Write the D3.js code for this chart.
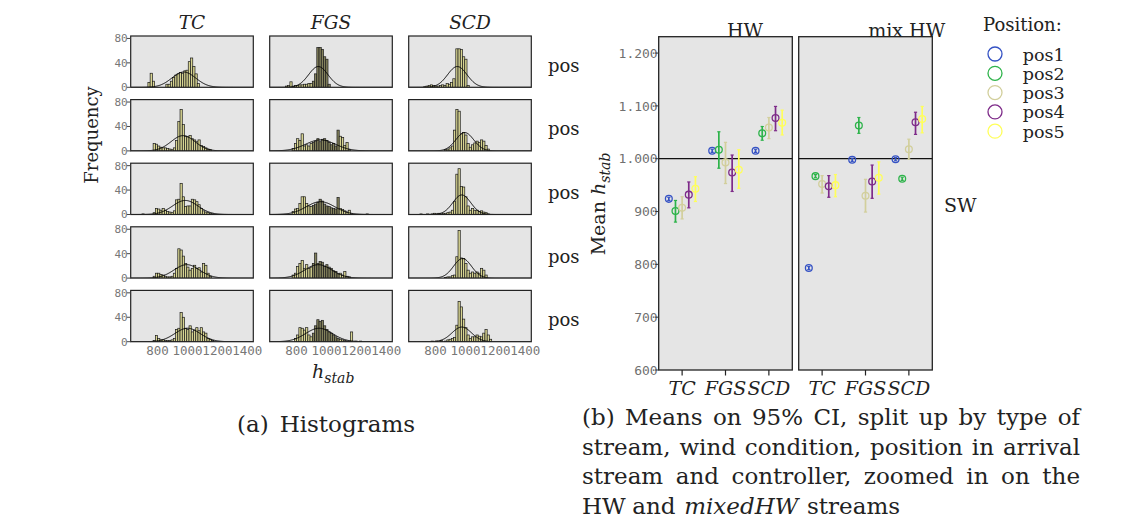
<!DOCTYPE html>
<html><head><meta charset="utf-8">
<script src="https://cdn.jsdelivr.net/npm/d3@7"></script>
<style>body{margin:0;background:#fff}</style>
</head><body><svg id="c" width="1142" height="532"></svg>
<script>
// ---------------- DATA ----------------
const columns = ["TC", "FGS", "SCD"];
const rowLabels = ["pos", "pos", "pos", "pos", "pos"];
const binWidth = 15;
const histXTicks = [800, 1000, 1200, 1400];
const histYTicks = [0, 40, 80];

// [binStart, count] per panel row
const histTC = [
  [[735,8],[750,23],[765,10],[855,5],[870,5],[885,10],[900,16],[915,20],[930,22],[945,24],[960,23],[975,27],[990,28],[1005,42],[1020,48],[1035,34],[1050,22],[1065,6]],
  [[770,12],[785,11],[800,8],[815,6],[830,5],[845,5],[860,4],[875,3],[890,2],[905,5],[920,17],[935,48],[950,68],[965,43],[980,24],[995,23],[1010,25],[1025,20],[1040,18],[1055,15],[1070,18],[1085,9],[1100,7],[1115,5],[1130,3],[1145,2]],
  [[695,1],[770,3],[785,10],[800,9],[815,7],[830,10],[845,7],[860,5],[875,4],[890,3],[905,6],[920,24],[935,25],[950,51],[965,29],[980,13],[995,14],[1010,14],[1025,25],[1040,24],[1055,21],[1070,16],[1085,10],[1100,6],[1115,4],[1130,3],[1145,2],[1160,1]],
  [[770,3],[785,8],[800,8],[815,6],[830,5],[845,3],[860,2],[875,2],[890,3],[905,8],[920,16],[935,48],[950,46],[965,36],[980,24],[995,18],[1010,13],[1025,16],[1040,21],[1055,16],[1070,17],[1085,10],[1100,24],[1115,21],[1130,8],[1145,3]],
  [[770,2],[785,10],[800,5],[815,3],[830,3],[845,2],[860,2],[875,2],[890,3],[905,5],[920,20],[935,22],[950,48],[965,40],[980,22],[995,20],[1010,26],[1025,16],[1040,19],[1055,23],[1070,18],[1085,23],[1100,16],[1115,14],[1130,5],[1145,4],[1160,2]]
];
const histFGS = [
  [[725,2],[740,3],[755,9],[770,2],[785,3],[800,3],[815,4],[830,4],[845,5],[860,5],[875,6],[890,6],[905,10],[920,22],[935,65],[950,65],[965,62],[980,50],[995,46],[1010,5]],
  [[770,4],[785,12],[800,20],[815,17],[830,28],[845,8],[860,10],[875,8],[890,12],[905,14],[920,16],[935,20],[950,15],[965,19],[980,20],[995,17],[1010,14],[1025,10],[1040,12],[1055,8],[1070,34],[1085,24],[1100,22],[1115,9],[1130,14],[1145,2]],
  [[770,5],[785,9],[800,10],[815,18],[830,29],[845,29],[860,18],[875,14],[890,13],[905,15],[920,17],[935,20],[950,25],[965,22],[980,17],[995,14],[1010,13],[1025,11],[1040,10],[1055,9],[1070,28],[1085,10],[1100,8],[1115,6],[1130,4],[1145,7],[1160,1],[1265,1]],
  [[770,5],[785,8],[800,19],[815,24],[830,29],[845,16],[860,22],[875,16],[890,18],[905,24],[920,41],[935,24],[950,27],[965,26],[980,19],[995,22],[1010,18],[1025,16],[1040,12],[1055,11],[1070,7],[1085,8],[1100,5],[1115,11],[1130,3],[1145,2]],
  [[785,5],[800,11],[815,23],[830,22],[845,19],[860,23],[875,11],[890,8],[905,14],[920,26],[935,36],[950,33],[965,35],[980,26],[995,20],[1010,16],[1025,14],[1040,11],[1055,8],[1070,5],[1085,4],[1100,3],[1115,2],[1130,1],[1145,1],[1160,16],[1190,1],[1220,1]]
];
const histSCD = [
  [[720,1],[735,2],[750,3],[765,4],[780,3],[795,2],[810,2],[825,3],[840,4],[855,3],[870,6],[885,5],[900,8],[915,14],[935,63],[950,63],[965,62],[980,50],[995,46],[1010,3]],
  [[860,2],[875,3],[890,5],[905,8],[920,34],[935,68],[950,65],[965,28],[980,30],[995,26],[1010,12],[1025,6],[1040,10],[1055,13],[1070,16],[1085,14],[1100,18],[1115,16],[1130,9],[1145,3]],
  [[695,1],[740,1],[770,1],[785,2],[800,1],[815,2],[830,1],[845,2],[860,2],[875,3],[890,4],[905,7],[920,21],[935,66],[950,75],[965,46],[980,45],[995,29],[1010,14],[1025,7],[1040,10],[1055,7],[1070,7],[1085,5],[1100,6],[1115,4],[1130,3],[1145,1]],
  [[860,1],[875,2],[890,2],[905,4],[920,5],[935,35],[950,78],[965,33],[980,32],[995,24],[1010,13],[1025,8],[1040,10],[1055,8],[1070,10],[1085,8],[1100,16],[1115,13],[1130,5]],
  [[770,1],[800,1],[830,2],[860,1],[875,3],[890,4],[905,5],[920,7],[935,27],[950,66],[965,57],[980,37],[995,23],[1010,11],[1025,5],[1040,8],[1055,8],[1070,11],[1085,9],[1100,8],[1115,14],[1130,20],[1145,11],[1160,4]]
];
// fitted normal curve per panel: [mean, sd, peak count]
const curveTC  = [[975,80,25],[970,80,25],[985,85,23],[995,85,22],[1000,85,22]];
const curveFGS = [[945,65,34],[960,100,18],[960,95,21],[945,90,22],[950,90,22]];
const curveSCD = [[945,65,34],[995,60,30],[975,60,32],[980,60,32],[975,65,24]];

// Means chart
const controllers = ["TC", "FGS", "SCD"];
const positions = ["pos1", "pos2", "pos3", "pos4", "pos5"];
const meanTicks = [600, 700, 800, 900, 1000, 1100, 1200];
// rows = positions, cols = controllers
const hwMean = [[924,1015,1015],[901,1017,1048],[907,993,1059],[932,974,1077],[943,979,1068]];
const hwLo   = [[921,1012,1012],[880,982,1035],[886,953,1038],[907,938,1053],[919,944,1045]];
const hwHi   = [[927,1018,1018],[921,1051,1061],[928,1031,1078],[956,1007,1099],[966,1017,1092]];
const mixMean = [[793,998,999],[967,1063,962],[952,930,1018],[948,957,1069],[950,964,1075]];
const mixLo   = [[790,995,996],[964,1048,959],[935,899,999],[927,925,1046],[928,933,1049]];
const mixHi   = [[796,1001,1002],[970,1078,965],[968,961,1037],[968,988,1088],[970,994,1099]];
const posColors = ["#3552c4", "#2db34a", "#d2cf9c", "#7e2b89", "#ffff5a"];

// ---------------- DRAW ----------------
const svg = d3.select("#c");
const SERIF = "DejaVu Serif", MONO = "DejaVu Sans Mono";

// ---- histograms ----
const hx0 = 130.7, hColStep = 139, hw = 122.6, hy0 = 36, hRowStep = 63.6, hh = 51.3;
const xH = d3.scaleLinear().domain([620, 1440]).range([0, hw]);
const yH = d3.scaleLinear().domain([0, 84]).range([hh, 0]);
const histData = {TC: histTC, FGS: histFGS, SCD: histSCD};
const curveData = {TC: curveTC, FGS: curveFGS, SCD: curveSCD};

svg.append("defs").append("clipPath").attr("id", "hclip")
  .append("rect").attr("width", hw).attr("height", hh);

columns.forEach((col, ci) => {
  const gx = hx0 + ci * hColStep;
  svg.append("text").attr("x", gx + hw / 2).attr("y", 29)
    .attr("text-anchor", "middle").attr("font-family", SERIF).attr("font-style", "italic")
    .attr("font-size", 18.5).attr("fill", "#222").text(col);
  histData[col].forEach((bins, ri) => {
    const g = svg.append("g").attr("transform", `translate(${gx},${hy0 + ri * hRowStep})`);
    g.append("rect").attr("width", hw).attr("height", hh).attr("fill", "#e5e5e5");
    const inner = g.append("g").attr("clip-path", "url(#hclip)");
    inner.selectAll("rect.bar").data(bins).join("rect").attr("class", "bar")
      .attr("x", d => xH(d[0])).attr("width", d => xH(d[0] + binWidth) - xH(d[0]))
      .attr("y", d => yH(d[1])).attr("height", d => yH(0) - yH(d[1]))
      .attr("fill", d => (col === "FGS" && d[0] >= 900 && d[0] < 1080) ? "#84825c" : "#d8d592")
      .attr("stroke", "#1a1a1a").attr("stroke-width", 0.7);
    const [m, s, p] = curveData[col][ri];
    const pts = d3.range(620, 1441, 3).map(v => [v, p * Math.exp(-0.5 * ((v - m) / s) ** 2)]);
    inner.append("path").attr("d", d3.line().x(d => xH(d[0])).y(d => yH(d[1]))(pts))
      .attr("fill", "none").attr("stroke", "#000").attr("stroke-width", 1);
    g.append("rect").attr("width", hw).attr("height", hh).attr("fill", "none")
      .attr("stroke", "#222").attr("stroke-width", 1.2);
    if (ci === 0) {
      histYTicks.forEach(t => {
        g.append("line").attr("x1", -4).attr("x2", 0).attr("y1", yH(t)).attr("y2", yH(t))
          .attr("stroke", "#444").attr("stroke-width", 1);
        g.append("text").attr("x", -3).attr("y", yH(t)).attr("dy", "0.36em")
          .attr("text-anchor", "end").attr("font-family", MONO).attr("font-size", 11)
          .attr("fill", "#777").text(t);
      });
    }
    if (ci === columns.length - 1) {
      svg.append("text").attr("x", 548).attr("y", hy0 + ri * hRowStep + 35.7)
        .attr("font-family", SERIF).attr("font-size", 18).attr("fill", "#222").text(rowLabels[ri]);
    }
    if (ri === histData[col].length - 1) {
      histXTicks.forEach(t => {
        svg.append("text").attr("x", gx + xH(t)).attr("y", 355)
          .attr("text-anchor", "middle").attr("font-family", MONO).attr("font-size", 12.5)
          .attr("fill", "#777").text(t);
      });
    }
  });
});
// Frequency label
svg.append("text").attr("transform", "translate(98,135) rotate(-90)")
  .attr("text-anchor", "middle").attr("font-family", SERIF).attr("font-size", 18)
  .attr("fill", "#222").text("Frequency");
// h_stab label
const hl = svg.append("text").attr("x", 312).attr("y", 378)
  .attr("font-family", SERIF).attr("font-style", "italic").attr("font-size", 19).attr("fill", "#222");
hl.append("tspan").text("h");
hl.append("tspan").attr("dy", 5).attr("font-size", 14).text("stab");

// ---- means chart ----
const yM = d3.scaleLinear().domain([600, 1231]).range([370, 36.7]);
const pw = 133.6;
const xC = d3.scalePoint().domain(controllers).range([0, pw]).padding(0.54);
const xP = d3.scalePoint().domain(positions).range([-13.3, 13.3]);
const fmt = d3.formatLocale({decimal: ",", thousands: ".", grouping: [3], currency: ["", ""]}).format(",d");
const panels = [
  {name: "HW", x: 658.7, titleX: 745, mean: hwMean, lo: hwLo, hi: hwHi},
  {name: "mix HW", x: 798.7, titleX: 906.7, mean: mixMean, lo: mixLo, hi: mixHi}
];
panels.forEach((pn, pi) => {
  const g = svg.append("g").attr("transform", `translate(${pn.x},0)`);
  g.append("rect").attr("x", 0).attr("y", yM.range()[1]).attr("width", pw)
    .attr("height", yM.range()[0] - yM.range()[1]).attr("fill", "#e5e5e5");
  g.append("line").attr("x1", 0).attr("x2", pw).attr("y1", yM(1000)).attr("y2", yM(1000))
    .attr("stroke", "#111").attr("stroke-width", 1.2);
  positions.forEach((pos, k) => {
    controllers.forEach((c, j) => {
      const cx = xC(c) + xP(pos);
      const col = posColors[k];
      g.append("line").attr("x1", cx).attr("x2", cx)
        .attr("y1", yM(pn.lo[k][j])).attr("y2", yM(pn.hi[k][j]))
        .attr("stroke", col).attr("stroke-width", 1.7);
      [pn.lo[k][j], pn.hi[k][j]].forEach(v => {
        g.append("line").attr("x1", cx - 1.6).attr("x2", cx + 1.6)
          .attr("y1", yM(v)).attr("y2", yM(v)).attr("stroke", col).attr("stroke-width", 1.2);
      });
      g.append("circle").attr("cx", cx).attr("cy", yM(pn.mean[k][j])).attr("r", 3.4)
        .attr("fill", "none").attr("stroke", col).attr("stroke-width", 1.3);
    });
  });
  g.append("rect").attr("x", 0).attr("y", yM.range()[1]).attr("width", pw)
    .attr("height", yM.range()[0] - yM.range()[1]).attr("fill", "none")
    .attr("stroke", "#222").attr("stroke-width", 1.3);
  controllers.forEach(c => {
    g.append("line").attr("x1", xC(c)).attr("x2", xC(c)).attr("y1", 370).attr("y2", 375.5)
      .attr("stroke", "#222").attr("stroke-width", 1.2);
    g.append("text").attr("x", xC(c)).attr("y", 395).attr("text-anchor", "middle")
      .attr("font-family", SERIF).attr("font-style", "italic").attr("font-size", 19)
      .attr("fill", "#222").text(c);
  });
  svg.append("text").attr("x", pn.titleX).attr("y", 37).attr("text-anchor", "middle")
    .attr("font-family", SERIF).attr("font-size", 19).attr("fill", "#222").text(pn.name);
  if (pi === 0) {
    meanTicks.forEach(t => {
      g.append("text").attr("x", -1).attr("y", yM(t)).attr("dy", "0.36em")
        .attr("text-anchor", "end").attr("font-family", MONO).attr("font-size", 13)
        .attr("fill", "#707070").text(fmt(t));
      g.append("line").attr("x1", -3.5).attr("x2", 0).attr("y1", yM(t)).attr("y2", yM(t))
        .attr("stroke", "#333").attr("stroke-width", 1);
    });
  }
});
// Mean h_stab label
const ml = svg.append("text").attr("transform", "translate(605,204) rotate(-90)")
  .attr("text-anchor", "middle").attr("font-family", SERIF).attr("font-size", 19).attr("fill", "#222");
ml.append("tspan").text("Mean ");
ml.append("tspan").attr("font-style", "italic").text("h");
ml.append("tspan").attr("font-style", "italic").attr("font-size", 14).attr("dy", 5).text("stab");

svg.append("text").attr("x", 944).attr("y", 211.5).attr("font-family", SERIF)
  .attr("font-size", 19).attr("fill", "#222").text("SW");

// legend
svg.append("text").attr("x", 983).attr("y", 30.5).attr("font-family", SERIF)
  .attr("font-size", 18).attr("fill", "#222").text("Position:");
positions.forEach((p, k) => {
  const cy = 54 + k * 19.3;
  svg.append("circle").attr("cx", 995).attr("cy", cy).attr("r", 7)
    .attr("fill", "none").attr("stroke", posColors[k]).attr("stroke-width", 1.3);
  svg.append("text").attr("x", 1022.7).attr("y", cy + 6.5).attr("font-family", SERIF)
    .attr("font-size", 16.5).attr("textLength", 42).attr("lengthAdjust", "spacingAndGlyphs")
    .attr("fill", "#222").text(p);
});

// ---- captions (justified by word gaps) ----
function justLine(x, y, width, words) {
  const t = svg.append("text").attr("y", y).attr("font-family", SERIF).attr("font-size", 23).attr("fill", "#222");
  const spans = words.map(w => t.append("tspan").attr("font-style", w.it ? "italic" : "normal").text(w.t));
  const lens = spans.map(s => s.node().getComputedTextLength());
  const total = lens.reduce((a, b) => a + b, 0);
  const gap = words.length > 1 ? (width - total) / (words.length - 1) : 0;
  let cx = x;
  spans.forEach((s, i) => { s.attr("x", cx); cx += lens[i] + gap; });
}
const W = s => s.split(" ").map(t => ({t}));
justLine(237, 432, 178, W("(a) Histograms"));
justLine(582, 425, 498, W("(b) Means on 95% CI, split up by type of"));
justLine(582, 454.5, 498, W("stream, wind condition, position in arrival"));
justLine(582, 484, 498, W("stream and controller, zoomed in on the"));
justLine(582, 513.5, 318, [{t: "HW"}, {t: "and"}, {t: "mixedHW", it: true}, {t: "streams"}]);
</script>
</body></html>
